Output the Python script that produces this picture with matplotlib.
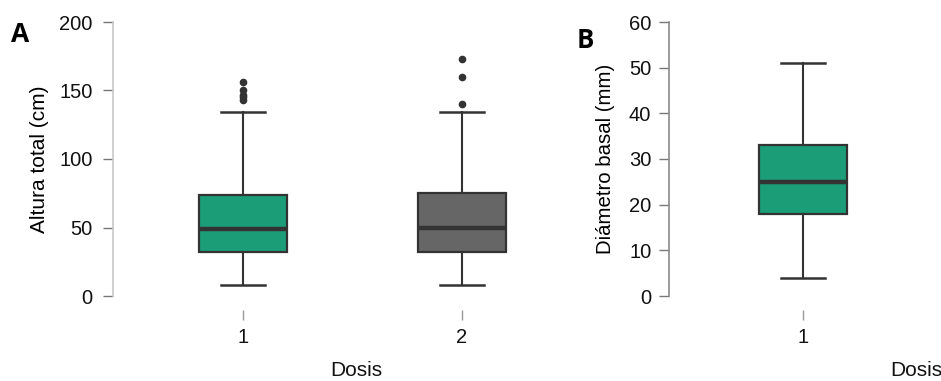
import matplotlib
matplotlib.use("Agg")
import matplotlib.pyplot as plt

plt.rcParams['font.family'] = ['Liberation Sans', 'DejaVu Sans']

# Panel A: altura total (cm) por dosis
dosis_a = ['1', '2']
altura_q1 = [32, 32]
altura_med = [48.6, 50]
altura_q3 = [73.7, 75]
altura_lo = [7.8, 7.8]
altura_hi = [134.5, 134]
altura_out = [[143, 145, 147, 150, 156], [140, 160, 173]]
colores_a = ['#1b9e77', '#666666']

# Panel B: diametro basal (mm)
dosis_b = ['1']
diam_q1 = [18]
diam_med = [25]
diam_q3 = [33]
diam_lo = [4]
diam_hi = [51]
diam_out = [[]]
colores_b = ['#1b9e77']

W, H = 941, 381
fig = plt.figure(figsize=(W / 100, H / 100), dpi=100)

def make_stats(q1, med, q3, lo, hi, out):
    return [dict(q1=a, med=b, q3=c, whislo=d, whishi=e, fliers=f)
            for a, b, c, d, e, f in zip(q1, med, q3, lo, hi, out)]

def draw(ax, stats, colores, labels, ymax, step, spine_col, ypad):
    pos = list(range(1, len(stats) + 1))
    bp = ax.bxp(stats, positions=pos, widths=0.4, capwidths=0.2,
                patch_artist=True, manage_ticks=False,
                boxprops=dict(edgecolor='#333333', linewidth=1.6),
                medianprops=dict(color='#333333', linewidth=3.2),
                whiskerprops=dict(color='#333333', linewidth=1.5),
                capprops=dict(color='#333333', linewidth=1.8),
                flierprops=dict(marker='o', markersize=4.5, markerfacecolor='#333333',
                                markeredgecolor='#333333'))
    for patch, c in zip(bp['boxes'], colores):
        patch.set_facecolor(c)
    ax.set_ylim(0, ymax)
    ax.set_yticks(range(0, ymax + 1, step))
    ax.set_xticks(pos)
    ax.set_xticklabels(labels)
    for s in ['top', 'right']:
        ax.spines[s].set_visible(False)
    ax.spines['bottom'].set_position(('outward', 10))
    ax.spines['bottom'].set_color('none')
    ax.spines['left'].set_color(spine_col)
    ax.spines['left'].set_linewidth(1.2)
    ax.tick_params(axis='y', length=7.2, width=1, color='#777777', labelsize=14.5,
                   pad=ypad, labelcolor='#111111')
    ax.tick_params(axis='x', length=7.2, width=1, color='#999999', labelsize=14.5,
                   pad=5.5, labelcolor='#111111')
    ax.set_facecolor('none')

# axes placed in pixel coordinates
ax_a = fig.add_axes([113 / W, 85 / H, 478 / W, 274 / H])
ax_a.set_xlim(1 - 130 / 219, 2 + 129 / 219)
draw(ax_a, make_stats(altura_q1, altura_med, altura_q3, altura_lo, altura_hi, altura_out),
     colores_a, dosis_a, 200, 50, '#c8c8c8', 7.5)
ax_a.set_ylabel('Altura total (cm)', fontsize=15)
ax_a.yaxis.set_label_coords(-64 / 478, 0.5)

ax_b = fig.add_axes([669 / W, 85 / H, 272 / W, 274 / H])
ax_b.set_xlim(1 - 134 / 219, 1 - 134 / 219 + 272 / 219)
draw(ax_b, make_stats(diam_q1, diam_med, diam_q3, diam_lo, diam_hi, diam_out),
     colores_b, dosis_b, 60, 10, '#8a8a8a', 5.5)
ax_b.set_ylabel('Diámetro basal (mm)', fontsize=14.7)
ax_b.yaxis.set_label_coords(-54 / 272, 0.5)

fig.text(356 / W, 1 - 370 / H, 'Dosis', fontsize=15, ha='center', va='center', color='#111111')
fig.text(916 / W, 1 - 370 / H, 'Dosis', fontsize=15, ha='center', va='center', color='#111111')

fig.text(20 / W, 1 - 35 / H, 'A', fontsize=19, fontweight='bold', ha='center', va='center',
         family=['Open Sans', 'DejaVu Sans'])
fig.text(585 / W, 1 - 40 / H, 'B', fontsize=18.5, fontweight='bold', ha='center', va='center',
         family=['Open Sans', 'DejaVu Sans'])

fig.savefig('out.png', dpi=100)
